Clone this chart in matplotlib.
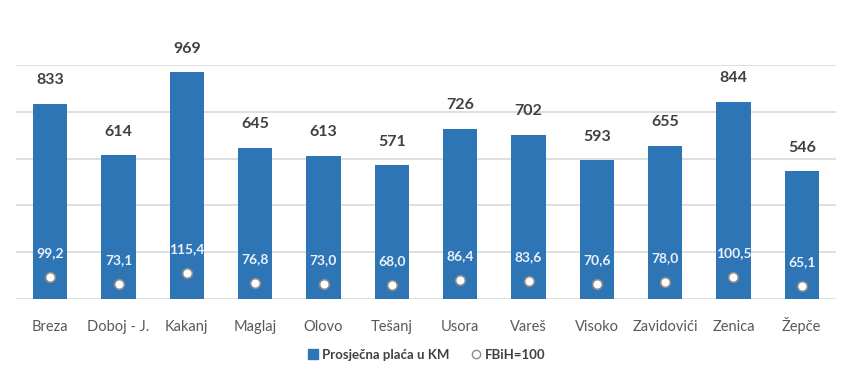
import matplotlib.pyplot as plt
from matplotlib.lines import Line2D
import numpy as np

plt.rcParams['font.family'] = ['Lato', 'DejaVu Sans']

municipalities = ['Breza', 'Doboj - J.', 'Kakanj', 'Maglaj', 'Olovo', 'Tešanj',
                  'Usora', 'Vareš', 'Visoko', 'Zavidovići', 'Zenica', 'Žepče']
avg_salary = [833, 614, 969, 645, 613, 571, 726, 702, 593, 655, 844, 546]
fbih_index = [99.2, 73.1, 115.4, 76.8, 73.0, 68.0, 86.4, 83.6, 70.6, 78.0, 100.5, 65.1]

BAR_COLOR = '#2E75B6'
TEXT_DARK = '#404040'
TEXT_GRAY = '#595959'

fig = plt.figure(figsize=(8.52, 3.78), dpi=100)
ax = fig.add_axes([16 / 852, 1 - 299 / 378, 820 / 852, 234 / 378])

x = np.arange(len(municipalities))
ax.bar(x, avg_salary, width=0.5, color=BAR_COLOR, zorder=2)
ax.set_xlim(-0.5, len(municipalities) - 0.5)
ax.set_ylim(0, 1000)
ax.set_yticks(range(0, 1001, 200))
ax.yaxis.grid(True, color='#D9D9D9', linewidth=1.2, zorder=0)
ax.set_axisbelow(True)
ax.set_xticks(x)
ax.set_xticklabels(municipalities)
for s in ax.spines.values():
    s.set_visible(False)

for xi, v in zip(x, avg_salary):
    ax.annotate(str(v), (xi, v), xytext=(0, 12), textcoords='offset points',
                ha='center', va='bottom', fontsize=11.5, fontweight='bold', color=TEXT_DARK)

# index on secondary axis
ax2 = ax.twinx()
ax2.set_ylim(14, 919)
ax2.axis('off')
ax2.plot(x, fbih_index, linestyle='none', marker='o', markersize=7,
         markerfacecolor='white', markeredgecolor='#8C8C8C', markeredgewidth=1.2, zorder=3)
for xi, v in zip(x, fbih_index):
    ax2.annotate(f'{v:.1f}'.replace('.', ','), (xi, v), xytext=(0, 13),
                 textcoords='offset points', ha='center', va='bottom',
                 fontsize=10, fontweight='bold', color='#EAF1FA')

# twinx turns the left ticks back on, so hide them afterwards
ax.tick_params(axis='y', left=False, right=False, labelleft=False)
ax.tick_params(axis='x', bottom=False, pad=0, labelsize=10.5, labelcolor=TEXT_GRAY)
for lbl in ax.get_xticklabels():
    lbl.set_verticalalignment('baseline')
    lbl.set_y(-0.115)

handles = [
    Line2D([], [], linestyle='none', marker='s', markersize=7, color=BAR_COLOR),
    Line2D([], [], linestyle='none', marker='o', markersize=6,
           markerfacecolor='white', markeredgecolor='#8C8C8C', markeredgewidth=1),
]
leg = fig.legend(handles, ['Prosječna plaća u KM', 'FBiH=100'], loc='center',
                 bbox_to_anchor=(0.5, 1 - 355 / 378), ncol=2, frameon=False,
                 handletextpad=0.2, columnspacing=1.5, handlelength=1,
                 prop={'size': 9.5, 'weight': 'bold'})
for t in leg.get_texts():
    t.set_color(TEXT_DARK)

fig.savefig('out.png', dpi=100)
